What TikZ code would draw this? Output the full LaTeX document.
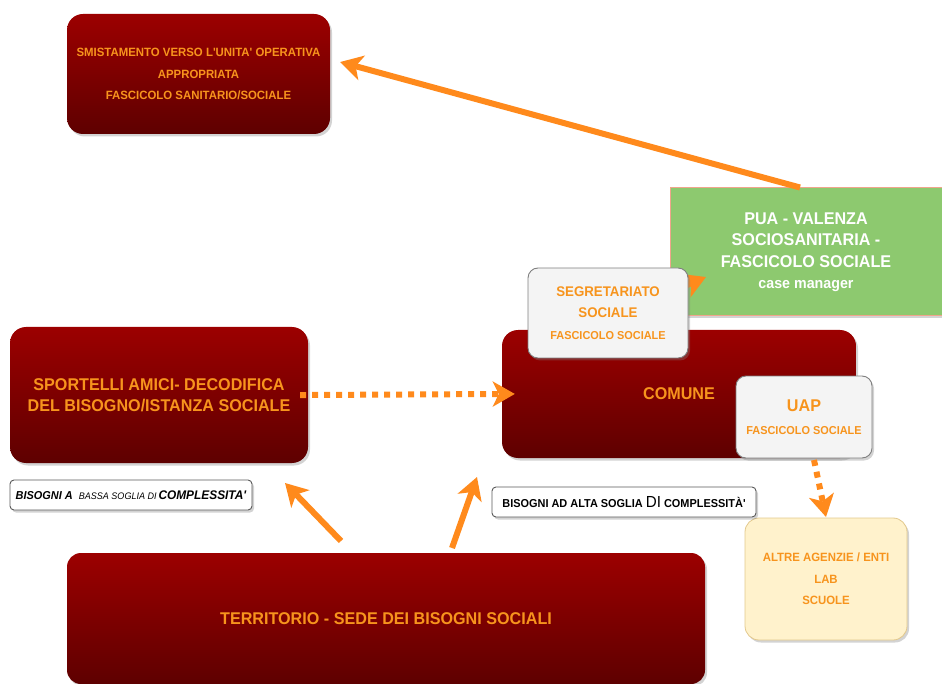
\documentclass[tikz,border=0pt]{standalone}
\usepackage{fontspec}
\setmainfont{Liberation Sans}
\newfontfamily\nar[FakeStretch=0.95]{Liberation Sans}
\usetikzlibrary{arrows.meta,shadows,calc}
\definecolor{dredA}{HTML}{9C0000}
\definecolor{dredB}{HTML}{5E0000}
\definecolor{tor}{HTML}{F7941D}
\definecolor{aor}{HTML}{FF8A1C}
\definecolor{gfill}{HTML}{8DC96F}
\definecolor{gline}{HTML}{F0A58C}
\definecolor{lfill}{HTML}{F4F4F4}
\definecolor{lline}{HTML}{7F7F7F}
\definecolor{yfill}{HTML}{FFF2CC}
\definecolor{yline}{HTML}{E2C88C}
\tikzset{
  shad/.style={drop shadow={opacity=0.35, shadow xshift=2pt, shadow yshift=-2.5pt}},
  redbox/.style={shad, rounded corners=16pt, top color=dredA, bottom color=dredB, draw=none,
    text=tor, font=\nar\bfseries, align=center, inner sep=0pt},
  lightbox/.style={shad, rounded corners=10pt, fill=lfill, draw=lline, line width=0.9pt,
    text=tor, font=\nar\bfseries, align=center, inner sep=0pt},
  tagbox/.style={shad, rounded corners=4pt, fill=white, draw=lline!70!black, line width=0.9pt,
    text=black, font=\nar\bfseries, align=center, inner sep=0pt},
  arr/.style={draw=aor, line width=6pt, -{Stealth[length=22pt, width=25pt, inset=6pt]}},
  dotarr/.style={arr, dash pattern=on 6pt off 6pt},
}
\begin{document}
\begin{tikzpicture}[x=1pt,y=-1pt]
\useasboundingbox (0,0) rectangle (942,684);

\node[redbox, minimum width=263pt, minimum height=120pt, font=\nar\bfseries\fontsize{12}{21.5}\selectfont]
  (smist) at (198.5,74) {SMISTAMENTO VERSO L'UNITA' OPERATIVA\\APPROPRIATA\\FASCICOLO SANITARIO/SOCIALE};

\node[redbox, minimum width=298pt, minimum height=136pt, font=\nar\bfseries\fontsize{17}{21}\selectfont]
  (spo) at (159,395) {SPORTELLI AMICI- DECODIFICA\\DEL BISOGNO/ISTANZA SOCIALE};

\node[redbox, minimum width=354pt, minimum height=128pt, font=\nar\bfseries\fontsize{17}{21}\selectfont]
  (com) at (679,394) {COMUNE};

\node[redbox, rounded corners=14pt, minimum width=638pt, minimum height=131pt, font=\nar\bfseries\fontsize{17}{21}\selectfont]
  (ter) at (386,618.5) {TERRITORIO - SEDE DEI BISOGNI SOCIALI};

\node[shad, fill=gfill, draw=gline, line width=1pt, minimum width=272pt, minimum height=128pt, inner sep=0pt,
  text=white, align=center, font=\nar\bfseries\fontsize{17}{21.5}\selectfont]
  (pua) at (806,252) {PUA - VALENZA\\SOCIOSANITARIA -\\FASCICOLO SOCIALE\\{\fontsize{15}{21.5}\selectfont case manager}};

\coordinate (sa) at (640,305);
\coordinate (sb) at (706,277);
\draw[arr] (sa) -- (sb);

\node[lightbox, minimum width=160pt, minimum height=90pt, font=\nar\bfseries\fontsize{14}{21.5}\selectfont]
  (seg) at (608,313) {SEGRETARIATO\\SOCIALE\\{\fontsize{11.5}{21.5}\selectfont FASCICOLO SOCIALE}};

\node[lightbox, minimum width=136pt, minimum height=82pt, font=\nar\bfseries\fontsize{17}{23}\selectfont]
  (uap) at (804,417) {UAP\\{\fontsize{11.5}{23}\selectfont FASCICOLO SOCIALE}};

\node[shad, rounded corners=14pt, fill=yfill, draw=yline, line width=0.8pt, minimum width=162pt, minimum height=122pt,
  inner sep=0pt, text=tor, align=center, font=\nar\bfseries\fontsize{12}{21.5}\selectfont]
  (alt) at (826,579) {ALTRE AGENZIE / ENTI\\LAB\\SCUOLE};

\node[tagbox, minimum width=242pt, minimum height=30pt, font=\nar\bfseries\itshape\fontsize{11.5}{14}\selectfont]
  (bassa) at (131,495) {BISOGNI A\ \ {\mdseries\fontsize{9.5}{14}\selectfont BASSA SOGLIA DI}\,{\fontsize{12.5}{14}\selectfont COMPLESSITA'}};

\node[tagbox, minimum width=264pt, minimum height=30pt, font=\nar\bfseries\fontsize{11.5}{14}\selectfont]
  (alta) at (624,502) {BISOGNI AD ALTA SOGLIA {\mdseries\fontsize{16}{14}\selectfont DI} COMPLESSITÀ'};

% connectors
\draw[arr] ($(pua.north)+(-6,0)$) -- ($(smist.east)+(10,-12)$);
\draw[dotarr, shorten >=-13pt, shorten <=-8pt] (spo.east) -- (com.west);
\coordinate (t1) at (341,541);
\coordinate (t1e) at (285,483);
\draw[arr] (t1) -- (t1e);
\coordinate (t2) at (452,548);
\coordinate (t2e) at (477,477);
\draw[arr] (t2) -- (t2e);
\coordinate (u1) at (814,460);
\coordinate (u1e) at (826,517);
\draw[dotarr] (u1) -- (u1e);
\end{tikzpicture}
\end{document}
